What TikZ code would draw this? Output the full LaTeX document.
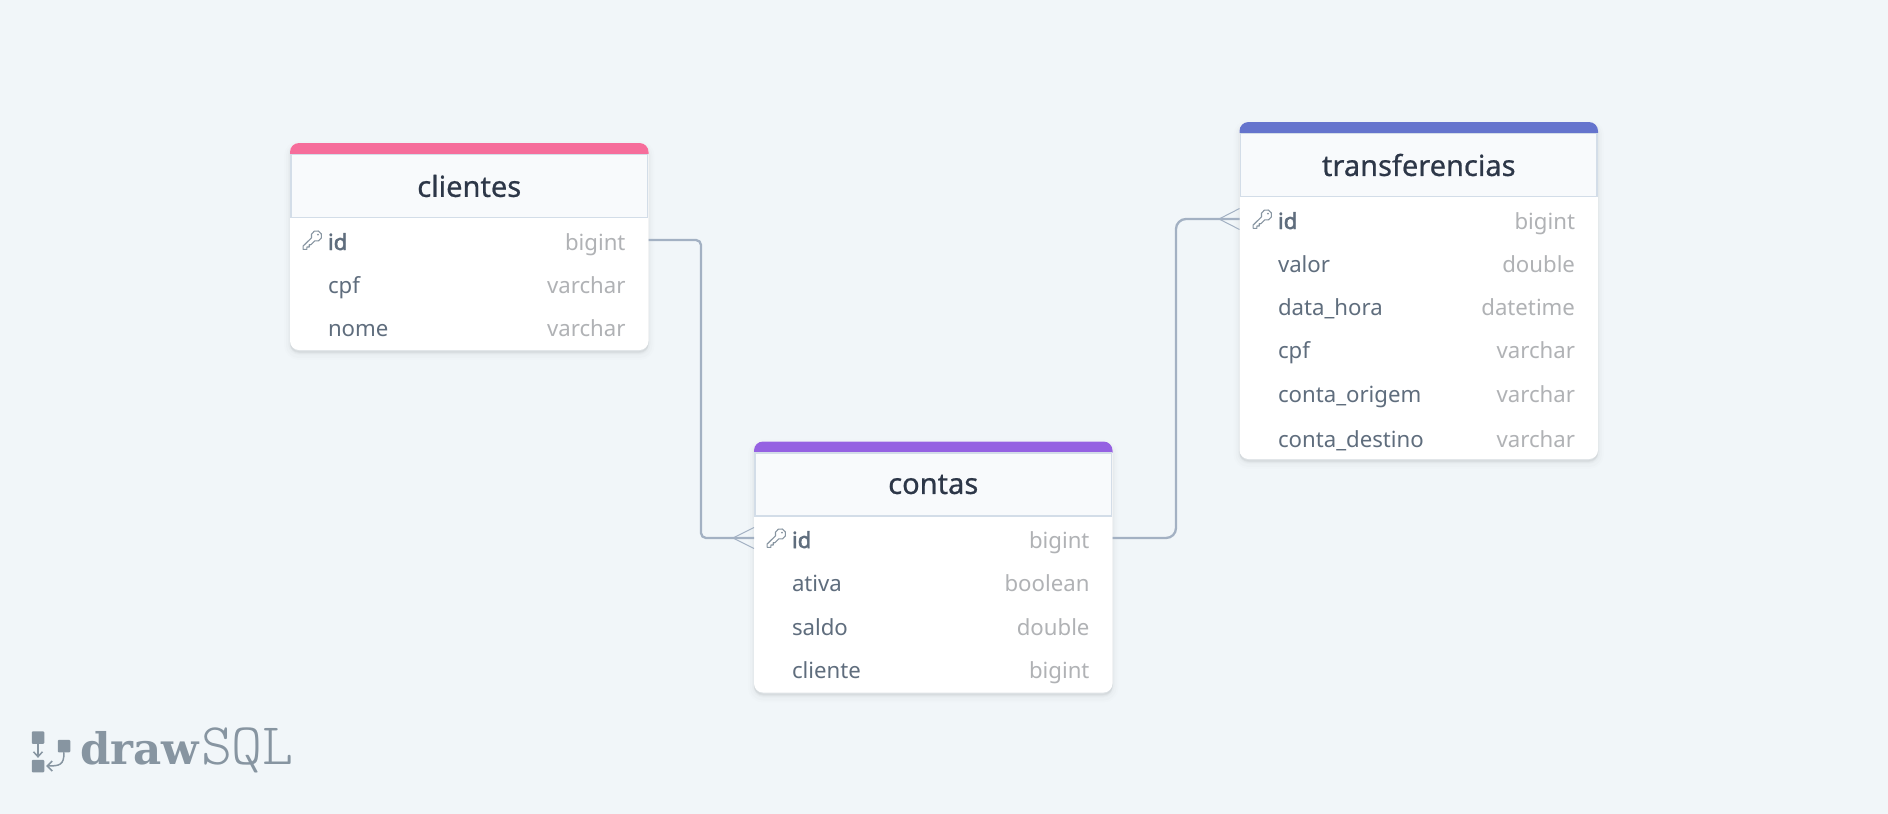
\documentclass[tikz,border=0pt]{standalone}
\usepackage{fontspec}
\setmainfont{Noto Sans}
\newfontfamily\titlefont{Noto Sans}[FakeBold=0.7]
\newfontfamily\keyfont{Noto Sans}[FakeBold=2.2]
\newfontfamily\logobold{DejaVu Serif}
\newfontfamily\logolight{Latin Modern Mono Light}
\usepackage{tikz}
\usetikzlibrary{positioning}
\usetikzlibrary{shadows}
\definecolor{pagebg}{HTML}{F1F6F9}
\definecolor{barpink}{HTML}{F66D9B}
\definecolor{barpurple}{HTML}{9561E2}
\definecolor{barindigo}{HTML}{6574CD}
\definecolor{headbg}{HTML}{F8FAFC}
\definecolor{headline}{HTML}{D3DDE8}
\definecolor{titleink}{HTML}{2D3748}
\definecolor{nameink}{HTML}{5F6D7D}
\definecolor{typeink}{HTML}{B0B2B5}
\definecolor{linkink}{HTML}{A3B1C3}
\definecolor{logoink}{HTML}{8795A1}

\tikzset{
  keyicon/.pic={
    \begin{scope}[x=1pt, y=1pt]
      \draw[logoink, line width=1.1pt, line join=round]
        (2.17,1.05) arc (250:560:5.28) -- (-9.4,-4.1) -- (-9.4,-7.3) -- (-5.6,-7.3) -- (-5.6,-5) -- (-3.3,-5) -- (-3.3,-2.7) -- (-1.6,-2.7) -- cycle;
      \fill[logoink] (5.4,7.4) circle (1);
    \end{scope}
  }
}

\begin{document}
\begin{tikzpicture}
    [x=1pt, y=-1pt,
     every node/.style={inner sep=0pt, outer sep=0pt},
     tablecard/.style={anchor=north west, rounded corners=9pt, fill=white, minimum width=358.5pt,
       general shadow={shadow yshift=-4pt, fill=black, draw=black, line width=12pt, opacity=.008},
       general shadow={shadow yshift=-4pt, fill=black, draw=black, line width=8pt, opacity=.012},
       general shadow={shadow yshift=-3pt, fill=black, draw=black, line width=4pt, opacity=.016},
       general shadow={shadow yshift=-2pt, fill=black, draw=black, line width=1.5pt, opacity=.018}},
     tablehead/.style={fill=headbg, draw=headline, line width=1.8pt, minimum width=356.5pt, minimum height=63pt,
       text=titleink, font=\titlefont\fontsize{29}{29}\selectfont},
     fieldbase/.style={text height=20pt, text depth=0pt, font=\fontsize{22.2}{24}\selectfont},
     fieldname/.style={fieldbase, text=nameink},
     fieldkey/.style={fieldbase, text=nameink, font=\keyfont\fontsize{22.2}{24}\selectfont},
     fieldtype/.style={fieldbase, text=typeink, anchor=east},
     relation/.style={draw=linkink, line width=2.3pt, rounded corners=5pt},
     crowfoot/.style={draw=linkink, line width=1pt},
     logotext/.style={text=logoink, anchor=base west},
     logosquare/.style={fill=logoink, rounded corners=1pt, minimum size=12.5pt},
     logoline/.style={draw=logoink, line width=1.5pt}]

    \fill[pagebg] (0,0) rectangle (1888,814);

    % links go under the tables
    \coordinate (bendclientes) at (701,400);
    \coordinate (bendcontas) at (1176,400);
    \coordinate (footcontas) at (733,538);
    \coordinate (foottransf) at (1219,219);

    % clientes
    \node (clientes) [tablecard, minimum height=207pt] at (290,143) {};
    \fill[barpink] ([yshift=-11pt]clientes.north west) [rounded corners=9pt] -- (clientes.north west) -- (clientes.north east) [sharp corners] -- ([yshift=-11pt]clientes.north east) -- cycle;
    \node (clienteshead) [tablehead, below = 11.5pt of clientes.north] {clientes};
    \node (clientesid) [fieldkey, anchor=west] at (328,240) {id};
    \node (clientescpf) [fieldname, below right = 23pt and 0pt of clientesid.south west] {cpf};
    \node (clientesnome) [fieldname, below right = 23pt and 0pt of clientescpf.south west] {nome};
    \node (clientesidtype) [fieldtype] at ([xshift=-23pt]clientes.east |- clientesid) {bigint};
    \node (clientescpftype) [fieldtype] at ([xshift=-23pt]clientes.east |- clientescpf) {varchar};
    \node (clientesnometype) [fieldtype] at ([xshift=-23pt]clientes.east |- clientesnome) {varchar};
    \pic at ([xshift=-15.5pt, yshift=-2pt]clientesid.west) {keyicon};

    % contas
    \node (contas) [tablecard, minimum height=251pt] at (754,441.5) {};
    \fill[barpurple] ([yshift=-11pt]contas.north west) [rounded corners=9pt] -- (contas.north west) -- (contas.north east) [sharp corners] -- ([yshift=-11pt]contas.north east) -- cycle;
    \node (contashead) [tablehead, below = 11.5pt of contas.north] {contas};
    \node (contasid) [fieldkey, anchor=west] at (792,538) {id};
    \node (contasativa) [fieldname, below right = 23pt and 0pt of contasid.south west] {ativa};
    \node (contassaldo) [fieldname, below right = 24pt and 0pt of contasativa.south west] {saldo};
    \node (contascliente) [fieldname, below right = 23pt and 0pt of contassaldo.south west] {cliente};
    \node (contasidtype) [fieldtype] at ([xshift=-23pt]contas.east |- contasid) {bigint};
    \node (contasativatype) [fieldtype] at ([xshift=-23pt]contas.east |- contasativa) {boolean};
    \node (contassaldotype) [fieldtype] at ([xshift=-23pt]contas.east |- contassaldo) {double};
    \node (contasclientetype) [fieldtype] at ([xshift=-23pt]contas.east |- contascliente) {bigint};
    \pic at ([xshift=-15.5pt, yshift=-2pt]contasid.west) {keyicon};

    % transferencias
    \node (transf) [tablecard, minimum height=337pt] at (1239.5,122) {};
    \fill[barindigo] ([yshift=-11pt]transf.north west) [rounded corners=9pt] -- (transf.north west) -- (transf.north east) [sharp corners] -- ([yshift=-11pt]transf.north east) -- cycle;
    \node (transfhead) [tablehead, below = 11.5pt of transf.north] {transferencias};
    \node (transfid) [fieldkey, anchor=west] at (1278,219) {id};
    \node (transfvalor) [fieldname, below right = 23pt and 0pt of transfid.south west] {valor};
    \node (transfdata) [fieldname, below right = 23pt and 0pt of transfvalor.south west] {data\_hora};
    \node (transfcpf) [fieldname, below right = 23pt and 0pt of transfdata.south west] {cpf};
    \node (transforigem) [fieldname, below right = 24pt and 0pt of transfcpf.south west] {conta\_origem};
    \node (transfdestino) [fieldname, below right = 25pt and 0pt of transforigem.south west] {conta\_destino};
    \node (transfidtype) [fieldtype] at ([xshift=-23pt]transf.east |- transfid) {bigint};
    \node (transfvalortype) [fieldtype] at ([xshift=-23pt]transf.east |- transfvalor) {double};
    \node (transfdatatype) [fieldtype] at ([xshift=-23pt]transf.east |- transfdata) {datetime};
    \node (transfcpftype) [fieldtype] at ([xshift=-23pt]transf.east |- transfcpf) {varchar};
    \node (transforigemtype) [fieldtype] at ([xshift=-23pt]transf.east |- transforigem) {varchar};
    \node (transfdestinotype) [fieldtype] at ([xshift=-23pt]transf.east |- transfdestino) {varchar};
    \pic at ([xshift=-15.5pt, yshift=-2pt]transfid.west) {keyicon};

    \draw[relation] (clientes.east |- clientesid) -| (bendclientes) |- (contas.west |- contasid);
    \draw[relation, rounded corners=10pt] (contas.east |- contasid) -| (bendcontas) |- (transf.west |- transfid);
    \draw[crowfoot] ([yshift=10.5pt]contas.west |- contasid) -- (footcontas) -- ([yshift=-10.5pt]contas.west |- contasid);
    \draw[crowfoot] ([yshift=10.5pt]transf.west |- transfid) -- (foottransf) -- ([yshift=-10.5pt]transf.west |- transfid);

    % logo
    \node (logoa) [logosquare] at (38,737.5) {};
    \node (logob) [logosquare] at (64,746) {};
    \node (logoc) [logosquare] at (38,766) {};
    \draw[logoline] (logoa) -- ([yshift=3pt]logoc.north);
    \draw[logoline] ([xshift=-4.5pt, yshift=8pt]logoc.north) -- ([yshift=3pt]logoc.north) -- ([xshift=4.5pt, yshift=8pt]logoc.north);
    \draw[logoline] (logob.south) .. controls (64,765) and (60,766) .. ([xshift=3pt]logoc.east);
    \draw[logoline] ([xshift=8pt, yshift=5pt]logoc.east) -- ([xshift=3pt]logoc.east) -- ([xshift=8pt, yshift=-5pt]logoc.east);
    \node (logodraw) [logotext, font=\logobold\bfseries\fontsize{43.5}{44}\selectfont] at (80,764) {draw};
    \node (logosql) [logotext, font=\logolight\fontsize{59}{60}\selectfont] at (201,764) {SQL};
\end{tikzpicture}
\end{document}
